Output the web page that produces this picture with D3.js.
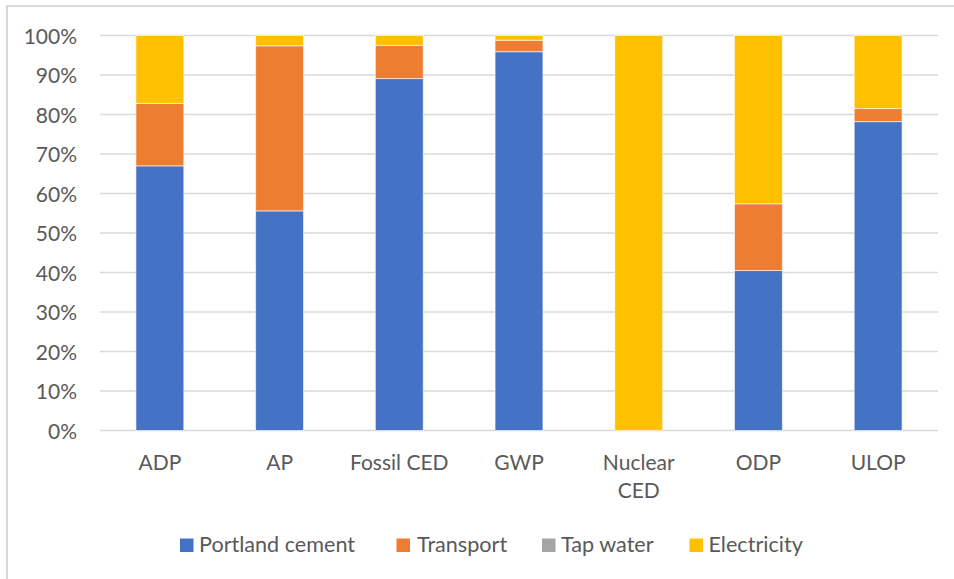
<!DOCTYPE html>
<html>
<head>
<meta charset="utf-8">
<script src="https://cdn.jsdelivr.net/npm/d3@7"></script>
<style>
  html, body { margin: 0; padding: 0; background: #fff; }
  svg { display: block; }
  text { font-family: Lato, "Open Sans", sans-serif; fill: #595959; }
</style>
</head>
<body>
<svg id="chart" width="954" height="579"></svg>
<script>
// Impact categories and share of each contributor (%)
const categories = ["ADP", "AP", "Fossil CED", "GWP", "Nuclear CED", "ODP", "ULOP"];
const seriesNames = ["Portland cement", "Transport", "Tap water", "Electricity"];
const portlandCement = [67.0, 55.6, 89.1, 95.9, 0, 40.5, 78.2];
const transport      = [15.8, 41.8, 8.4, 2.9, 0, 16.9, 3.3];
const tapWater       = [0, 0, 0, 0, 0, 0, 0];
const electricity    = [17.2, 2.6, 2.5, 1.2, 100, 42.6, 18.5];
const yTicks = [0, 10, 20, 30, 40, 50, 60, 70, 80, 90, 100];
const colors = ["#4472C4", "#ED7D31", "#A5A5A5", "#FFC000"];

const seriesValues = [portlandCement, transport, tapWater, electricity];
const rows = categories.map((c, i) => {
  const r = { category: c };
  seriesNames.forEach((s, k) => { r[s] = seriesValues[k][i]; });
  return r;
});

const svg = d3.select("#chart");

// outer chart frame
svg.append("rect")
  .attr("x", 7).attr("y", 6)
  .attr("width", 980).attr("height", 620)
  .attr("fill", "none")
  .attr("stroke", "#d9d9d9")
  .attr("stroke-width", 2);

const x = d3.scaleBand()
  .domain(categories)
  .range([100, 938])
  .paddingInner(0.6)
  .paddingOuter(0.3);

const y = d3.scaleLinear()
  .domain([0, 100])
  .range([430.5, 35.5]);

// horizontal gridlines
svg.append("g")
  .selectAll("line")
  .data(yTicks)
  .join("line")
  .attr("x1", 100).attr("x2", 938)
  .attr("y1", d => y(d)).attr("y2", d => y(d))
  .attr("stroke", "#d9d9d9")
  .attr("stroke-width", 1.5);

// y axis labels
const yAxis = d3.axisLeft(y)
  .tickValues(yTicks)
  .tickFormat(d => d + "%")
  .tickSize(0)
  .tickPadding(0);
const yg = svg.append("g").attr("transform", "translate(77,0)").call(yAxis);
yg.select(".domain").remove();
yg.selectAll("text")
  .attr("font-size", 21)
  .attr("font-family", "Lato, 'Open Sans', sans-serif")
  .attr("fill", "#595959")
  .attr("dy", "0.36em");

// stacked bars
const stack = d3.stack().keys(seriesNames);
const layers = stack(rows);

svg.append("g")
  .selectAll("g")
  .data(layers)
  .join("g")
  .attr("fill", (d, i) => colors[i])
  .selectAll("rect")
  .data(d => d.filter(p => p[1] - p[0] > 0))
  .join("rect")
  .attr("x", d => x(d.data.category))
  .attr("width", x.bandwidth())
  .attr("y", d => y(d[1]))
  .attr("height", d => y(d[0]) - y(d[1]))
  .attr("stroke", "#ffffff")
  .attr("stroke-opacity", 0.6)
  .attr("stroke-width", 1);

// x axis labels, wrapped when wider than the category slot
const xAxis = d3.axisBottom(x).tickSize(0).tickPadding(0);
const xg = svg.append("g").attr("transform", "translate(0,470)").call(xAxis);
xg.select(".domain").remove();
xg.selectAll("text")
  .attr("font-size", 21)
  .attr("font-family", "Lato, 'Open Sans', sans-serif")
  .attr("fill", "#595959")
  .attr("dy", 0)
  .attr("y", 0)
  .each(function (d) {
    const t = d3.select(this);
    if (this.getComputedTextLength() > 104) {
      const words = d.split(" ");
      t.text(null);
      words.forEach((w, i) => {
        t.append("tspan").attr("x", 0).attr("dy", i === 0 ? 0 : 28).text(w);
      });
    }
  });

// legend
const legendItems = [
  { name: seriesNames[0], sx: 180, tx: 199 },
  { name: seriesNames[1], sx: 396.5, tx: 417 },
  { name: seriesNames[2], sx: 542, tx: 561 },
  { name: seriesNames[3], sx: 689.5, tx: 708.5 }
];
const lg = svg.append("g");
legendItems.forEach((it, i) => {
  lg.append("rect")
    .attr("x", it.sx).attr("y", 538.5)
    .attr("width", 13.5).attr("height", 13.5)
    .attr("fill", colors[i]);
  lg.append("text")
    .attr("x", it.tx).attr("y", 551.7)
    .attr("font-size", 21.6)
    .text(it.name);
});
</script>
</body>
</html>
